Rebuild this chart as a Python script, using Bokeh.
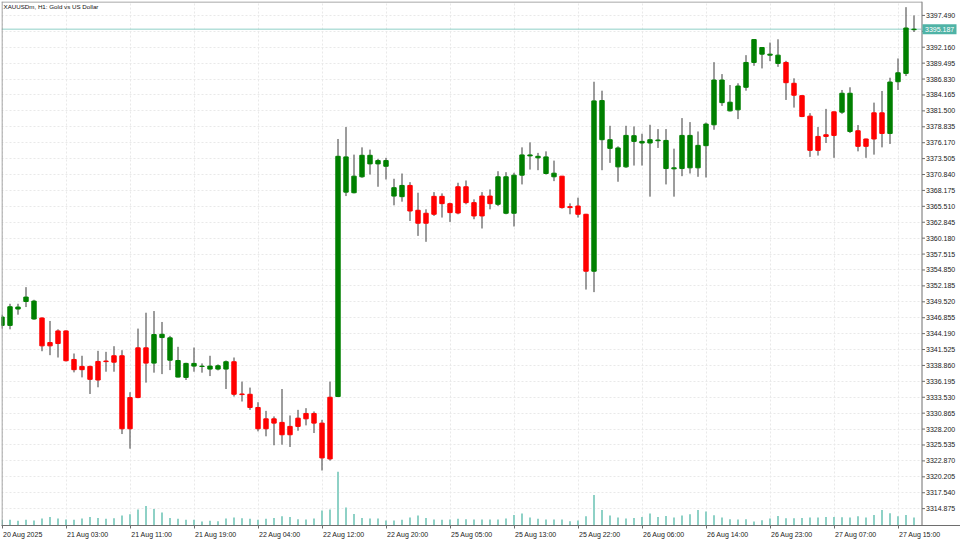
from bokeh.plotting import figure
from bokeh.models import (Range1d, FixedTicker, Label, ColumnDataSource, InlineStyleSheet)
from bokeh.core.properties import value
from bokeh.embed import file_html
from bokeh.resources import INLINE

chart_title = "XAUUSDm, H1:  Gold vs US Dollar"

opens = [3345.57, 3345.57, 3348.31, 3349.57, 3346.64, 3346.81, 3342.69, 3344.64, 3344.64, 3339.86,
         3338.70, 3338.70, 3339.53, 3339.60, 3340.48, 3340.48, 3333.48, 3341.81, 3341.81, 3339.25,
         3343.53, 3339.74, 3336.91, 3336.86, 3338.75, 3338.68, 3338.25, 3338.25, 3338.25, 3339.48,
         3334.08, 3334.03, 3331.82, 3329.92, 3329.92, 3329.32, 3328.65, 3330.03, 3330.82, 3330.82,
         3329.20, 3333.53, 3333.65, 3367.89, 3367.79, 3370.46, 3372.62, 3372.62, 3372.22, 3367.23,
         3367.13, 3369.01, 3364.85, 3364.35, 3367.18, 3367.18, 3365.96, 3368.79, 3368.79, 3366.13,
         3367.23, 3367.23, 3365.85, 3364.35, 3364.35, 3370.73, 3373.96, 3373.63, 3371.01, 3370.46,
         3370.56, 3365.46, 3365.56, 3364.18, 3354.64, 3376.67, 3375.22, 3372.12, 3372.12, 3376.39,
         3376.12, 3376.12, 3376.50, 3371.84, 3371.79, 3371.84, 3371.96, 3371.96, 3375.67, 3379.17,
         3382.88, 3381.50, 3381.67, 3385.45, 3389.61, 3391.00, 3390.83, 3389.45, 3389.61, 3386.12,
         3384.05, 3380.62, 3377.22, 3377.50, 3381.34, 3381.29, 3378.05, 3378.17, 3376.79, 3381.17,
         3381.17, 3377.72, 3386.38, 3387.78, 3395.10]
highs = [3347.36, 3349.19, 3349.19, 3351.97, 3349.86, 3346.90, 3346.31, 3344.91, 3344.74, 3340.86,
         3340.48, 3338.81, 3341.31, 3341.14, 3342.08, 3341.41, 3334.37, 3345.03, 3347.69, 3347.97,
         3346.14, 3343.81, 3341.98, 3339.31, 3341.86, 3339.20, 3340.48, 3339.03, 3339.69, 3340.19,
         3336.15, 3335.15, 3332.70, 3331.25, 3330.32, 3334.91, 3330.48, 3331.42, 3331.70, 3331.15,
         3329.75, 3336.15, 3376.79, 3378.79, 3374.17, 3375.39, 3375.01, 3373.46, 3373.63, 3370.13,
         3371.01, 3369.56, 3367.79, 3365.01, 3367.89, 3367.68, 3366.13, 3369.46, 3369.84, 3366.68,
         3367.89, 3368.34, 3371.39, 3371.23, 3371.13, 3375.39, 3376.22, 3374.46, 3374.72, 3373.17,
         3370.60, 3366.01, 3366.96, 3364.25, 3386.38, 3384.88, 3379.00, 3375.56, 3379.00, 3378.89,
         3377.67, 3379.17, 3378.45, 3378.45, 3375.17, 3380.29, 3379.62, 3378.05, 3379.55, 3389.66,
         3387.66, 3385.83, 3386.12, 3390.83, 3393.50, 3392.15, 3392.94, 3393.49, 3389.88, 3386.95,
         3384.12, 3381.12, 3378.79, 3381.83, 3381.40, 3385.00, 3385.45, 3379.12, 3376.85, 3382.88,
         3384.83, 3387.05, 3390.28, 3398.87, 3397.49]
lows = [3345.03, 3344.91, 3347.36, 3348.64, 3346.52, 3341.24, 3340.58, 3340.19, 3339.53, 3337.70,
        3336.86, 3334.08, 3335.20, 3337.81, 3337.81, 3327.37, 3324.92, 3333.37, 3335.98, 3337.65,
        3337.41, 3338.08, 3336.86, 3336.42, 3337.81, 3337.65, 3337.08, 3338.03, 3334.91, 3333.65,
        3332.82, 3331.42, 3327.82, 3326.99, 3325.49, 3325.59, 3325.20, 3327.92, 3328.82, 3327.54,
        3321.26, 3322.92, 3333.60, 3367.23, 3367.68, 3370.29, 3370.84, 3368.79, 3370.01, 3365.68,
        3366.29, 3363.06, 3360.56, 3359.57, 3363.90, 3363.63, 3362.90, 3364.18, 3365.85, 3363.35,
        3361.80, 3365.01, 3365.56, 3364.18, 3362.13, 3369.18, 3371.67, 3371.56, 3370.84, 3369.73,
        3365.13, 3364.18, 3363.63, 3351.57, 3351.14, 3371.56, 3372.79, 3369.63, 3371.96, 3372.34,
        3372.34, 3367.13, 3375.29, 3369.18, 3367.13, 3370.56, 3371.01, 3370.46, 3370.34, 3378.34,
        3382.33, 3381.40, 3380.12, 3384.88, 3389.05, 3388.61, 3389.83, 3388.88, 3383.33, 3382.05,
        3380.45, 3373.79, 3374.01, 3376.12, 3373.63, 3381.00, 3377.79, 3374.72, 3373.63, 3374.17,
        3375.39, 3375.96, 3385.00, 3387.33, 3394.71]
closes = [3346.97, 3348.69, 3348.64, 3350.31, 3349.64, 3342.14, 3342.14, 3342.53, 3339.65, 3338.15,
          3338.15, 3336.53, 3336.42, 3339.50, 3339.41, 3328.25, 3328.25, 3333.48, 3339.25, 3344.03,
          3344.08, 3343.48, 3339.69, 3339.20, 3339.20, 3338.75, 3338.75, 3338.81, 3339.48, 3334.03,
          3333.98, 3331.82, 3328.25, 3328.25, 3329.20, 3327.25, 3327.25, 3328.65, 3329.92, 3329.20,
          3323.37, 3323.20, 3373.89, 3373.79, 3370.56, 3374.06, 3374.06, 3373.17, 3373.17, 3368.63,
          3369.01, 3364.73, 3362.68, 3362.68, 3364.18, 3365.96, 3364.46, 3364.39, 3366.13, 3363.90,
          3363.90, 3365.96, 3370.46, 3370.46, 3370.73, 3374.12, 3374.12, 3373.89, 3373.79, 3371.06,
          3365.30, 3365.30, 3364.18, 3354.64, 3383.17, 3383.22, 3376.67, 3375.29, 3377.39, 3377.34,
          3376.39, 3376.67, 3376.62, 3376.55, 3371.96, 3377.39, 3377.39, 3375.72, 3379.29, 3386.67,
          3386.67, 3382.95, 3385.66, 3389.61, 3393.44, 3392.11, 3391.00, 3390.83, 3386.22, 3384.12,
          3380.55, 3374.89, 3374.89, 3377.22, 3377.39, 3384.45, 3384.45, 3375.56, 3375.56, 3376.79,
          3377.72, 3386.33, 3387.88, 3395.38, 3395.187]
volumes = [1020, 1020, 840, 1020, 900, 1260, 1560, 1260, 1080, 1020,
           1260, 1560, 1380, 1200, 1320, 1800, 2040, 2880, 3540, 3000,
           2340, 1380, 1200, 1020, 1020, 720, 840, 780, 1260, 1440,
           1320, 1200, 1020, 1200, 1380, 1680, 1560, 1140, 1080, 1260,
           2700, 2880, 9720, 3240, 2100, 1380, 1260, 1260, 900, 900,
           1020, 1440, 1800, 1380, 1080, 1020, 1080, 1200, 1140, 1080,
           1080, 1080, 1080, 1260, 1920, 2160, 1440, 1200, 1080, 1080,
           1080, 780, 900, 1680, 5520, 2820, 1800, 1440, 1260, 1380,
           1560, 2160, 1560, 1740, 1440, 1800, 2040, 2820, 2520, 1860,
           1440, 1140, 1080, 1140, 720, 960, 1260, 1740, 1320, 1320,
           1380, 1440, 1440, 1560, 1560, 1500, 1440, 1680, 1440, 1920,
           2820, 2220, 1680, 1920, 1440]

time_tick_bars = [0, 8, 16, 24, 32, 40, 48, 56, 64, 72, 80, 88, 96, 104, 112]
time_tick_labels = ["20 Aug 2025", "21 Aug 03:00", "21 Aug 11:00", "21 Aug 19:00", "22 Aug 04:00",
                    "22 Aug 12:00", "22 Aug 20:00", "25 Aug 05:00", "25 Aug 13:00", "25 Aug 22:00",
                    "26 Aug 06:00", "26 Aug 14:00", "26 Aug 23:00", "27 Aug 07:00", "27 Aug 15:00"]
price_ticks = [3314.875, 3317.540, 3320.205, 3322.870, 3325.535, 3328.200, 3330.865, 3333.530,
               3336.195, 3338.860, 3341.525, 3344.190, 3346.855, 3349.520, 3352.185, 3354.850,
               3357.515, 3360.180, 3362.845, 3365.510, 3368.175, 3370.840, 3373.505, 3376.170,
               3378.835, 3381.500, 3384.165, 3386.830, 3389.495, 3392.160, 3394.825, 3397.490]
current_price = 3395.187

FONT = "Liberation Sans"
AXIS_FS = 7.0          # px
PX_PER_BAR = 8.0
PX_PER_PRICE = 6.004
GREEN = "#008000"
RED = "#ff0000"
AXIS_COLOR = "#6e6e6e"
FRAME_COLOR = "#8a8a8a"
X0 = -0.0625                 # left edge of the plotting area, in bars
X_AXIS = X0 + 920 / PX_PER_BAR   # where the price scale begins (in bars)
X_END = X0 + 959 / PX_PER_BAR

# Arial/Liberation advance widths (em) to left-align time labels at their tick
_adv = {c: 0.556 for c in "0123456789"}
_adv.update({" ": 0.278, ":": 0.278, "A": 0.667, "u": 0.556, "g": 0.556})


def label_center(bar, text):
    w = sum(_adv.get(ch, 0.556) for ch in text) * AXIS_FS
    return bar + (w / 2.0 + 1.0) / PX_PER_BAR


label_centers = [label_center(b, t) for b, t in zip(time_tick_bars, time_tick_labels)]

bars = list(range(len(opens)))
src = ColumnDataSource(dict(
    x=bars,
    high=highs,
    low=lows,
    top=[max(o, c) for o, c in zip(opens, closes)],
    bottom=[min(o, c) for o, c in zip(opens, closes)],
    color=[GREEN if c >= o else RED for o, c in zip(opens, closes)],
    vol=volumes,
))

y_lo, y_hi = 3312.05, 3399.82
p = figure(width=960, height=540, output_backend="svg", toolbar_location=None,
           x_range=Range1d(X0, X_END), y_range=Range1d(y_lo, y_hi),
           y_axis_location=None,
           min_border_left=1, min_border_right=0, min_border_top=1, min_border_bottom=12)
p.stylesheets = [InlineStyleSheet(css=":host { position: absolute !important; left: 0px !important; top: 0px !important; }")]
p.extra_y_ranges = {"vol": Range1d(0, 94860)}
p.background_fill_color = "white"
p.border_fill_color = "white"
p.outline_line_color = None

# ticks and grid
xt_axis = FixedTicker(ticks=label_centers, minor_ticks=time_tick_bars)
xt_grid = FixedTicker(ticks=time_tick_bars)
yt = FixedTicker(ticks=price_ticks)
p.xaxis.ticker = xt_axis
p.xgrid.ticker = xt_grid
p.ygrid.ticker = yt
for g in (p.xgrid, p.ygrid):
    g.grid_line_color = "#e9e9e9"
    g.grid_line_dash = "2 2"
    g.grid_line_width = 1

# time axis
ax = p.xaxis[0]
ax.major_label_overrides = {c: t for c, t in zip(label_centers, time_tick_labels)}
ax.axis_line_color = AXIS_COLOR
ax.minor_tick_line_color = AXIS_COLOR
ax.major_tick_out = 0
ax.major_tick_in = 0
ax.minor_tick_out = 3
ax.minor_tick_in = 0
ax.major_label_standoff = 2
ax.major_label_text_font = FONT
ax.major_label_text_font_size = f"{AXIS_FS}px"
ax.major_label_text_color = "#222222"

# volumes
p.vbar(x="x", width=0.25, top="vol", bottom=0, source=src, y_range_name="vol",
       fill_color="#8ed1c6", line_color=None)

# current price line
p.segment(x0=[X0], y0=[current_price], x1=[X_AXIS], y1=[current_price],
          line_color="#8fd0c7", line_width=1)

# candles
p.segment(x0="x", y0="high", x1="x", y1="low", source=src, line_color="#3a3a3a", line_width=1)
p.vbar(x="x", width=0.55, top="top", bottom="bottom", source=src,
       fill_color="color", line_color="color", line_width=1)

# price scale on the right (drawn in the plot so the price box can sit on it)
p.quad(left=[X_AXIS], right=[X_END], top=[y_hi], bottom=[y_lo], fill_color="white", line_color=None)
xa = X_AXIS + 0.5 / PX_PER_BAR
p.segment(x0=[xa], y0=[y_lo], x1=[xa], y1=[y_hi], line_color=AXIS_COLOR, line_width=1)
p.segment(x0=[xa] * len(price_ticks), y0=price_ticks,
          x1=[xa + 3 / PX_PER_BAR] * len(price_ticks), y1=price_ticks,
          line_color=AXIS_COLOR, line_width=1)
shown = [t for t in price_ticks if abs(t - current_price) * PX_PER_PRICE > 7]
p.text(x=[xa + 4 / PX_PER_BAR] * len(shown), y=shown, text=[f"{t:.3f}" for t in shown],
       text_font=value(FONT), text_font_size=value(f"{AXIS_FS}px"), text_color="#222222",
       text_baseline="middle", text_align="left")

# left and top frame borders of the chart window
y_top_line = y_hi - 0.5 / PX_PER_PRICE
p.segment(x0=[X0 + 0.5 / PX_PER_BAR, X0], y0=[y_lo, y_top_line],
          x1=[X0 + 0.5 / PX_PER_BAR, xa], y1=[y_hi, y_top_line],
          line_color=FRAME_COLOR, line_width=1)

# current price box
box_half = 5 / PX_PER_PRICE
p.quad(left=[X_AXIS + 1 / PX_PER_BAR], right=[X_AXIS + 35 / PX_PER_BAR],
       top=[current_price + box_half], bottom=[current_price - box_half],
       fill_color="#4fb3a6", line_color=None)
p.text(x=[xa + 3 / PX_PER_BAR], y=[current_price], text=[f"{current_price:.3f}"],
       text_font=value(FONT), text_font_size=value(f"{AXIS_FS}px"), text_color="white",
       text_baseline="middle", text_align="left")

# title
p.add_layout(Label(x=0.19, y=3399.49, text=chart_title, text_font=FONT, text_font_size="6.2px",
                   text_color="#111111", text_baseline="top", text_align="left"))

open("out.html", "w").write(file_html(p, INLINE))
